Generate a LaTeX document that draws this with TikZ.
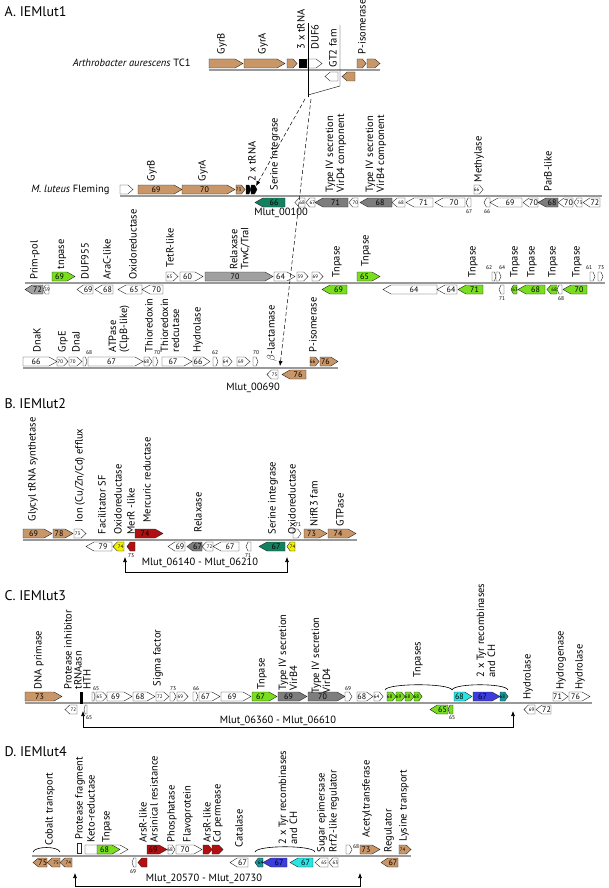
\documentclass[tikz,border=0pt]{standalone}
\usepackage{fontspec}
\setmainfont{PT Sans}
\usetikzlibrary{arrows.meta}
\definecolor{tan}{RGB}{201,150,104}
\definecolor{tnp}{RGB}{120,222,30}
\definecolor{dkgreen}{RGB}{20,128,96}
\definecolor{rel}{RGB}{160,160,160}
\definecolor{dkgray}{RGB}{125,125,125}
\definecolor{merc}{RGB}{178,16,16}
\definecolor{yel}{RGB}{242,240,0}
\definecolor{cyn}{RGB}{40,228,228}
\definecolor{blu}{RGB}{60,60,225}
\definecolor{tea}{RGB}{26,150,150}

\newcounter{gn}
\newcommand{\gfwd}[5]{%
  \stepcounter{gn}%
  \pgfmathsetmacro{\gw}{#2-#1}%
  \pgfmathsetmacro{\tip}{min(8,0.4*\gw)}%
  \pgfmathsetmacro{\mx}{#1+(\gw-\tip)/2}%
  \draw[gene,fill=#4] (#1,#3) -- ({#2-\tip},#3) -- (#2,{#3+4.5}) -- ({#2-\tip},{#3+9}) -- (#1,{#3+9}) -- cycle;
  \ifdim\gw pt<14pt \node[small num] (g\thegn) at (\mx,{#3+4.5}) {#5};\else\node[num] (g\thegn) at (\mx,{#3+4.5}) {#5};\fi}
\newcommand{\grev}[5]{%
  \stepcounter{gn}%
  \pgfmathsetmacro{\gw}{#2-#1}%
  \pgfmathsetmacro{\tip}{min(8,0.4*\gw)}%
  \pgfmathsetmacro{\mx}{#2-(\gw-\tip)/2}%
  \draw[gene,fill=#4] (#2,#3) -- ({#1+\tip},#3) -- (#1,{#3+4.5}) -- ({#1+\tip},{#3+9}) -- (#2,{#3+9}) -- cycle;
  \ifdim\gw pt<14pt \node[small num] (g\thegn) at (\mx,{#3+4.5}) {#5};\else\node[num] (g\thegn) at (\mx,{#3+4.5}) {#5};\fi}
\newcommand{\glabel}[3]{\stepcounter{gn}\node[lab] (l\thegn) at (#1,#2) {#3};}
\newcommand{\tnum}[3]{\stepcounter{gn}\node[tinynum] (t\thegn) at (#1,#2) {#3};}

\begin{document}
\begin{tikzpicture}[x=1pt,y=-1pt,
  gene/.style={draw=black!85,line width=0.4pt},
  num/.style={font=\fontsize{8}{8}\selectfont,inner sep=0pt},
  small num/.style={font=\fontsize{5}{5}\selectfont,inner sep=0pt},
  tinynum/.style={font=\fontsize{5.5}{5.5}\selectfont,inner sep=0pt},
  lab/.style={rotate=90,anchor=west,align=left,inner sep=0.5pt,font=\fontsize{10.5}{11}\selectfont},
  title/.style={anchor=west,font=\fontsize{14}{16}\selectfont},
  txt/.style={font=\fontsize{10.5}{12}\selectfont},
  row/.style={draw=black!40,line width=1.6pt},
  link/.style={dash pattern=on 4pt off 2.5pt,line width=0.5pt,-{Latex[length=5pt,width=4pt]}},
  span/.style={{Latex[length=5pt,width=4pt]}-{Latex[length=5pt,width=4pt]},line width=0.6pt},
  brace/.style={line width=0.6pt}]
\useasboundingbox (0,0) rectangle (608,888);

\node[title] (ta) at (1,12) {A. IEMlut1};
\node[title] (tb) at (1,404) {B. IEMlut2};
\node[title] (tc) at (1,596) {C. IEMlut3};
\node[title] (td) at (1,752) {D. IEMlut4};

% Arthrobacter
\coordinate (r0a) at (209,70); \coordinate (r0b) at (380,70);
\draw[row] (r0a) -- (r0b);
\node[txt,anchor=east] (art) at (194,63) {\itshape Arthrobacter aurescens\upshape{} TC1};
\def\up{59}\def\dn{72}
\gfwd{209}{243}{\up}{tan}{}
\gfwd{244}{285}{\up}{tan}{}
\gfwd{287}{297}{\up}{tan}{}
\fill (299,59) rectangle (307,68);
\gfwd{307}{322}{\up}{white}{}
\gfwd{357}{366}{\up}{tan}{}
\gfwd{367}{380}{\up}{tan}{}
\grev{325}{338}{\dn}{white}{}
\grev{342}{355}{\dn}{tan}{}
\glabel{222}{55}{GyrB}
\glabel{263}{55}{GyrA}
\glabel{301}{50}{3 x tRNA}
\glabel{315}{50}{DUF6}
\glabel{333}{68}{GT2 fam}
\glabel{362}{55}{P-isomerase}
\coordinate (i1) at (308,23); \coordinate (i2) at (308,97);
\coordinate (i3) at (340,25); \coordinate (i4) at (340,86); \coordinate (i5) at (308,95);
\draw (i1) -- (i2);
\draw (i3) -- (i4) -- (i5);

% M. luteus
\coordinate (r1a) at (120,196); \coordinate (r1b) at (602,196);
\draw[row] (r1a) -- (r1b);
\node[txt,anchor=east] (mlu) at (113,190) {\itshape M. luteus\upshape{} Fleming};
\def\up{185}\def\dn{198}
\gfwd{120}{133}{\up}{white}{}
\gfwd{138}{182}{\up}{tan}{69}
\gfwd{182}{235}{\up}{tan}{70}
\gfwd{236}{245}{\up}{tan}{73}
\gfwd{246}{251}{\up}{black}{}
\gfwd{251}{257}{\up}{black}{}
\gfwd{474}{483}{\up}{white}{66}
\grev{255}{285}{\dn}{dkgreen}{66}
\grev{295}{305}{\dn}{white}{68}
\grev{306}{315}{\dn}{white}{67}
\grev{315}{348}{\dn}{dkgray}{71}
\grev{349}{358}{\dn}{white}{70}
\grev{360}{392}{\dn}{dkgray}{68}
\grev{392}{405}{\dn}{white}{68}
\grev{406}{433}{\dn}{white}{71}
\grev{435}{465}{\dn}{white}{70}
\grev{466}{471}{\dn}{white}{}
\grev{484}{490}{\dn}{white}{}
\grev{490}{522}{\dn}{white}{69}
\grev{523}{538}{\dn}{white}{70}
\grev{538}{558}{\dn}{dkgray}{68}
\grev{558}{573}{\dn}{white}{70}
\grev{574}{582}{\dn}{white}{73}
\grev{583}{600}{\dn}{white}{72}
\tnum{469}{212}{67}
\tnum{487}{212}{66}
\glabel{152}{182}{GyrB}
\glabel{203}{182}{GyrA}
\glabel{252}{182}{2 x tRNA}
\glabel{275}{191}{Serine integrase}
\glabel{336}{193}{Type IV secretion\\VirD4 component}
\glabel{376}{193}{Type IV secretion\\VirB4 component}
\glabel{479}{183}{Methylase}
\glabel{548}{192}{ParB-like}
\node[txt] (m100) at (281,213) {Mlut\_00100};

% row 2
\coordinate (r2a) at (25,283); \coordinate (r2b) at (605,283);
\draw[row] (r2a) -- (r2b);
\def\up{272}\def\dn{285}
\gfwd{52}{75}{\up}{tnp}{69}
\gfwd{166}{178}{\up}{white}{65}
\gfwd{180}{203}{\up}{white}{60}
\gfwd{205}{273}{\up}{rel}{70}
\gfwd{274}{295}{\up}{white}{64}
\gfwd{297}{308}{\up}{white}{59}
\gfwd{312}{323}{\up}{white}{69}
\gfwd{357}{380}{\up}{tnp}{65}
\gfwd{492}{496}{\up}{white}{}
\gfwd{496}{501}{\up}{white}{}
\gfwd{590}{595}{\up}{white}{}
\gfwd{598}{603}{\up}{white}{}
\tnum{489}{268}{62}
\tnum{502}{268}{64}
\tnum{589}{268}{61}
\tnum{601}{268}{73}
\grev{25}{43}{\dn}{rel}{72}
\grev{43}{49}{\dn}{white}{59}
\grev{77}{93}{\dn}{white}{69}
\grev{95}{113}{\dn}{white}{68}
\grev{118}{142}{\dn}{white}{65}
\grev{142}{163}{\dn}{white}{70}
\grev{322}{347}{\dn}{tnp}{69}
\grev{383}{437}{\dn}{white}{64}
\grev{437}{457}{\dn}{white}{64}
\grev{458}{483}{\dn}{tnp}{71}
\grev{499}{504}{\dn}{white}{}
\grev{511}{517}{\dn}{tnp}{63}
\grev{518}{545}{\dn}{tnp}{68}
\grev{547}{557}{\dn}{tnp}{68}
\grev{557}{562}{\dn}{white}{}
\grev{563}{587}{\dn}{tnp}{70}
\tnum{502}{299}{71}
\tnum{561}{299}{68}
\glabel{35}{280}{Prim-pol}
\glabel{62}{270}{tnpase}
\glabel{85}{280}{DUF955}
\glabel{107}{280}{AraC-like}
\glabel{133}{280}{Oxidoreductase}
\glabel{170}{268}{TetR-like}
\glabel{240}{270}{Relaxase\\TrwC/TraI}
\glabel{337}{278}{Tnpase}
\glabel{366}{267}{Tnpase}
\glabel{473}{278}{Tnpase}
\glabel{515}{278}{Tnpase}
\glabel{532}{278}{Tnpase}
\glabel{553}{278}{Tnpase}
\glabel{577}{278}{Tnpase}

% row 3
\coordinate (r3a) at (23,368); \coordinate (r3b) at (338,368);
\draw[row] (r3a) -- (r3b);
\def\up{357}\def\dn{370}
\gfwd{23}{57}{\up}{white}{66}
\gfwd{57}{68}{\up}{white}{70}
\gfwd{69}{82}{\up}{white}{70}
\gfwd{83}{87}{\up}{white}{}
\gfwd{88}{143}{\up}{white}{67}
\gfwd{144}{152}{\up}{white}{68}
\gfwd{153}{158}{\up}{white}{}
\gfwd{162}{192}{\up}{white}{67}
\gfwd{193}{210}{\up}{white}{66}
\gfwd{213}{218}{\up}{white}{}
\gfwd{223}{232}{\up}{white}{64}
\gfwd{237}{250}{\up}{white}{69}
\gfwd{253}{258}{\up}{white}{}
\gfwd{310}{319}{\up}{tan}{66}
\gfwd{320}{338}{\up}{tan}{76}
\grev{267}{278}{\dn}{white}{75}
\grev{282}{306}{\dn}{tan}{76}
\tnum{89}{353}{68}
\tnum{157}{353}{70}
\tnum{215}{353}{62}
\tnum{256}{353}{70}
\glabel{37}{353}{DnaK}
\glabel{63}{353}{GrpE}
\glabel{76}{353}{DnaJ}
\glabel{119}{353}{ATPase\\(ClpB-like)}
\glabel{149}{353}{Thioredoxin}
\glabel{170}{353}{Thioredoxin\\redcutase}
\glabel{198}{353}{Hydrolase}
\glabel{272}{362}{$\beta$-lactamase}
\glabel{313}{353}{P-isomerase}
\node[txt] (m690) at (253,388) {Mlut\_00690};

\coordinate (s1) at (305,99); \coordinate (trna) at (256,186);
\coordinate (s2) at (311,99); \coordinate (bla) at (280,366);
\draw[link] (s1) -- (trna);
\draw[link] (s2) -- (bla);

% B
\coordinate (rba) at (23,540); \coordinate (rbb) at (357,540);
\draw[row] (rba) -- (rbb);
\def\up{529}\def\dn{542}
\gfwd{23}{52}{\up}{tan}{69}
\gfwd{53}{73}{\up}{tan}{78}
\gfwd{74}{86}{\up}{white}{73}
\gfwd{135}{163}{\up}{merc}{74}
\gfwd{293}{301}{\up}{white}{}
\gfwd{304}{327}{\up}{tan}{73}
\gfwd{328}{356}{\up}{tan}{74}
\grev{86}{112}{\dn}{white}{79}
\grev{113}{124}{\dn}{yel}{74}
\grev{127}{135}{\dn}{merc}{}
\grev{168}{185}{\dn}{white}{69}
\grev{187}{202}{\dn}{dkgray}{67}
\grev{202}{213}{\dn}{white}{72}
\grev{213}{239}{\dn}{white}{67}
\grev{246}{251}{\dn}{white}{}
\grev{259}{285}{\dn}{dkgreen}{67}
\grev{287}{295}{\dn}{yel}{74}
\tnum{298}{525}{71}
\tnum{131}{556}{73}
\tnum{248}{556}{71}
\glabel{33}{522}{Glycyl tRNA synthetase}
\glabel{80}{523}{Ion (Cu/Zn/Cd) efflux}
\glabel{102}{535}{Facilitator SF}
\glabel{118}{535}{Oxidoreductase}
\glabel{131}{535}{MerR -like}
\glabel{147}{523}{Mercuric reductase}
\glabel{198}{533}{Relaxase}
\glabel{273}{535}{Serine integrase}
\glabel{292}{535}{Oxidoreductase}
\glabel{314}{527}{NifR3 fam}
\glabel{340}{527}{GTPase}
\coordinate (bL) at (125,557); \coordinate (bR) at (287,557); \coordinate (bB) at (0,572);
\draw[span] (bL) -- (bL|-bB) -- (bR|-bB) -- (bR);
\node[txt] (bT) at (200,563) {Mlut\_06140 - Mlut\_06210};

% C
\coordinate (rca) at (25,703); \coordinate (rcb) at (592,703);
\draw[row] (rca) -- (rcb);
\def\up{692}\def\dn{705}
\gfwd{25}{62}{\up}{tan}{73}
\fill (80,692) rectangle (83,704);
\gfwd{92}{95}{\up}{white}{}
\gfwd{96}{107}{\up}{white}{65}
\gfwd{107}{132}{\up}{white}{69}
\gfwd{133}{155}{\up}{white}{68}
\gfwd{156}{169}{\up}{white}{72}
\gfwd{170}{176}{\up}{white}{}
\gfwd{177}{188}{\up}{white}{69}
\gfwd{193}{198}{\up}{white}{}
\gfwd{199}{220}{\up}{white}{67}
\gfwd{221}{251}{\up}{white}{69}
\gfwd{252}{277}{\up}{tnp}{67}
\gfwd{278}{307}{\up}{dkgray}{69}
\gfwd{308}{345}{\up}{dkgray}{70}
\gfwd{345}{352}{\up}{white}{}
\gfwd{357}{373}{\up}{white}{68}
\gfwd{374}{383}{\up}{white}{64}
\gfwd{387}{396}{\up}{tnp}{68}
\gfwd{396}{405}{\up}{tnp}{69}
\gfwd{405}{414}{\up}{tnp}{68}
\gfwd{414}{422}{\up}{tnp}{68}
\gfwd{454}{472}{\up}{cyn}{68}
\gfwd{473}{500}{\up}{blu}{67}
\gfwd{500}{508}{\up}{tea}{68}
\gfwd{553}{568}{\up}{white}{71}
\gfwd{569}{590}{\up}{white}{76}
\grev{65}{77}{\dn}{white}{72}
\grev{84}{87}{\dn}{white}{}
\grev{430}{448}{\dn}{tnp}{65}
\grev{448}{453}{\dn}{tnp}{}
\grev{524}{535}{\dn}{white}{69}
\grev{536}{551}{\dn}{white}{72}
\tnum{96}{689}{65}
\tnum{173}{689}{73}
\tnum{196}{689}{66}
\tnum{348}{689}{69}
\tnum{89}{718}{65}
\tnum{452}{718}{65}
\coordinate (cb1) at (385,690); \coordinate (cb2) at (452,690); \coordinate (cb3) at (508,690);
\draw[brace] (cb1) .. controls +(2,-7) and +(-2,-7) .. (cb2);
\draw[brace] (cb2) .. controls +(2,-7) and +(-2,-7) .. (cb3);
\glabel{39}{690}{DNA primase}
\glabel{68}{690}{Protease inhibitor}
\glabel{78}{690}{tRNAasn}
\glabel{87}{690}{HTH}
\glabel{158}{687}{Sigma factor}
\glabel{262}{690}{Tnpase}
\glabel{288}{691}{Type IV secretion\\VirB4}
\glabel{321}{694}{Type IV secretion\\VirD4}
\glabel{418}{678}{Tnpases}
\glabel{486}{678}{2 x Tyr recombinases\\and CH}
\glabel{528}{700}{Hydrolase}
\glabel{561}{690}{Hydrogenase}
\glabel{580}{690}{Hydrolase}
\coordinate (cL) at (83,711); \coordinate (cR) at (513,711); \coordinate (cB) at (0,727);
\draw[span] (cL) -- (cL|-cB) -- (cR|-cB) -- (cR);
\node[txt] (cT) at (278,721) {Mlut\_06360 - Mlut\_06610};

% D
\coordinate (rda) at (32,856); \coordinate (rdb) at (411,856);
\draw[row] (rda) -- (rdb);
\def\up{845}\def\dn{858}
\draw[gene,fill=white] (77,843) rectangle (81,853);
\gfwd{85}{128}{\up}{white}{}
\gfwd{97}{120}{\up}{tnp}{68}
\gfwd{147}{167}{\up}{merc}{69}
\gfwd{168}{175}{\up}{white}{68}
\gfwd{176}{202}{\up}{white}{70}
\gfwd{203}{212}{\up}{merc}{}
\gfwd{212}{223}{\up}{merc}{}
\gfwd{346}{352}{\up}{white}{}
\gfwd{360}{380}{\up}{tan}{73}
\gfwd{399}{411}{\up}{tan}{74}
\grev{33}{47}{\dn}{tan}{75}
\grev{47}{60}{\dn}{tan}{75}
\grev{60}{72}{\dn}{tan}{74}
\grev{132}{136}{\dn}{white}{}
\grev{138}{147}{\dn}{merc}{}
\grev{230}{248}{\dn}{white}{67}
\grev{255}{263}{\dn}{tea}{64}
\grev{263}{287}{\dn}{blu}{67}
\grev{290}{313}{\dn}{cyn}{67}
\grev{315}{328}{\dn}{white}{65}
\grev{329}{338}{\dn}{white}{63}
\grev{381}{398}{\dn}{tan}{67}
\tnum{356}{847}{68}
\tnum{133}{872}{69}
\coordinate (db1) at (33,852); \coordinate (db2) at (60,852);
\coordinate (db3) at (255,852); \coordinate (db4) at (315,852);
\draw[brace] (db1) .. controls +(2,-6) and +(-2,-6) .. (db2);
\draw[brace] (db3) .. controls +(2,-7) and +(-2,-7) .. (db4);
\glabel{50}{846}{Cobalt transport}
\glabel{80}{840}{Protease fragment}
\glabel{91}{843}{Keto-reductase}
\glabel{107}{843}{Tnpase}
\glabel{143}{843}{ArsR-like}
\glabel{154}{843}{Arsinical resistance}
\glabel{172}{843}{Phosphatase}
\glabel{188}{843}{Flavoprotein}
\glabel{207}{843}{ArsR-like}
\glabel{218}{843}{Cd permease}
\glabel{239}{848}{Catalase}
\glabel{288}{845}{2 x Tyr recombinases\\and CH}
\glabel{322}{853}{Sugar epimersase}
\glabel{334}{853}{Rrf2-like regulator}
\glabel{367}{838}{Acetyltransferase}
\glabel{389}{853}{Regulator}
\glabel{404}{842}{Lysine transport}
\coordinate (dL) at (75,873); \coordinate (dR) at (360,873); \coordinate (dB) at (0,886);
\draw[span] (dL) -- (dL|-dB) -- (dR|-dB) -- (dR);
\node[txt] (dT) at (204,879) {Mlut\_20570 - Mlut\_20730};
\end{tikzpicture}
\end{document}
